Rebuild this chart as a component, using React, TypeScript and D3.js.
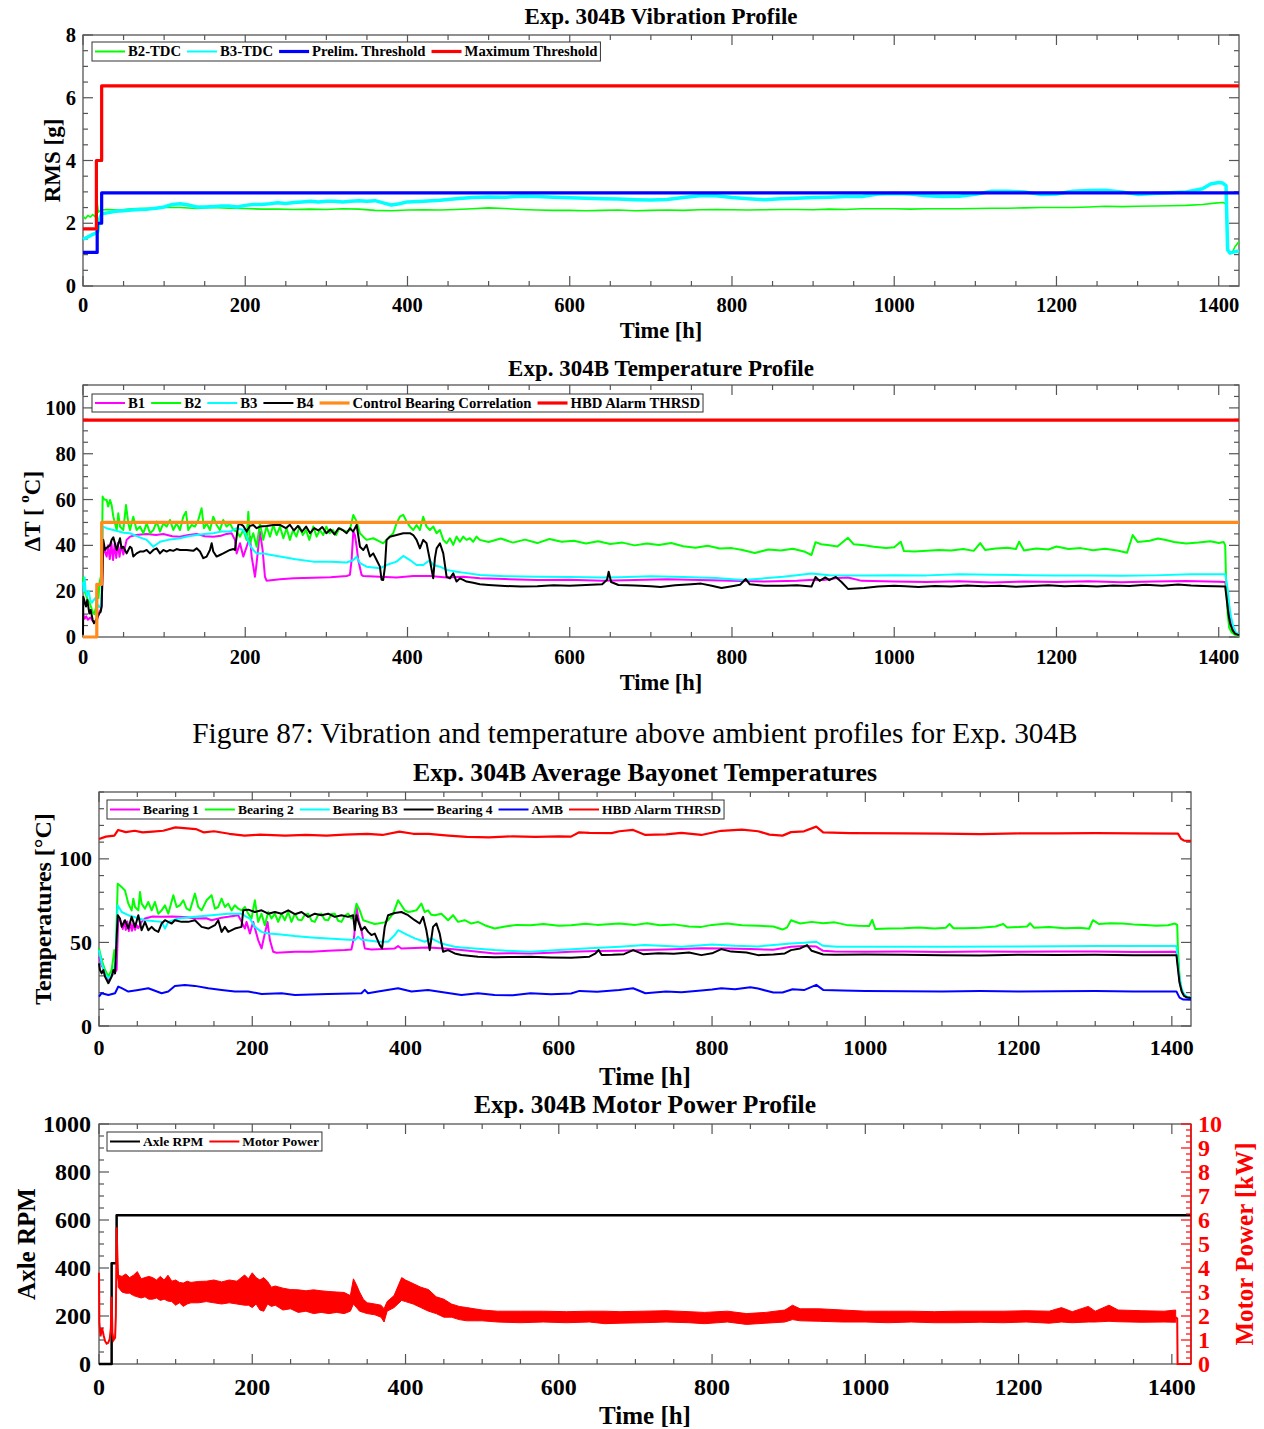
import React, { useEffect, useRef } from "react";
import * as d3 from "d3";

type P = [number, number];
type B = [number, number, number];

const W = 1264;
const H = 1429;
const FONT = "'Liberation Serif', 'Times New Roman', Times, serif";
const AX = "#555";
const X_MAX = 1425;
const xMajorTicks = [0, 200, 400, 600, 800, 1000, 1200, 1400];

// ---------------- Panel 1: Vibration ----------------
const vibTicks = [0, 2, 4, 6, 8];
const vibMax: P[] = [[0, 1.82], [16.5, 1.82], [16.5, 4.0], [23, 4.0], [23, 6.38], [1425, 6.38]];
const vibPrelim: P[] = [[0, 1.07], [17.5, 1.07], [17.5, 2.0], [23, 2.0], [23, 2.97], [1425, 2.97]];
const vibB2: P[] = [[0, 2.22], [3, 2.15], [6, 2.25], [9, 2.2], [12, 2.28], [15, 2.2], [17, 2.75], [19, 2.35], [22, 2.42], [30, 2.44], [45, 2.42], [60, 2.46], [80, 2.48], [100, 2.5], [120, 2.5], [140, 2.47], [160, 2.5], [180, 2.48], [200, 2.47], [220, 2.45], [240, 2.45], [260, 2.44], [280, 2.45], [300, 2.44], [320, 2.46], [340, 2.45], [360, 2.41], [380, 2.4], [400, 2.42], [420, 2.43], [440, 2.42], [460, 2.44], [480, 2.46], [500, 2.49], [520, 2.47], [540, 2.44], [560, 2.42], [580, 2.41], [600, 2.41], [620, 2.4], [640, 2.41], [660, 2.42], [680, 2.4], [700, 2.41], [720, 2.42], [740, 2.41], [760, 2.43], [780, 2.44], [800, 2.43], [820, 2.42], [840, 2.43], [860, 2.44], [880, 2.44], [900, 2.43], [920, 2.45], [940, 2.44], [960, 2.46], [980, 2.46], [1000, 2.46], [1020, 2.45], [1040, 2.46], [1060, 2.46], [1080, 2.46], [1100, 2.47], [1120, 2.48], [1140, 2.48], [1160, 2.49], [1180, 2.5], [1200, 2.5], [1220, 2.5], [1240, 2.52], [1260, 2.54], [1280, 2.53], [1300, 2.54], [1320, 2.55], [1340, 2.56], [1360, 2.57], [1380, 2.6], [1395, 2.64], [1405, 2.66], [1409, 2.62], [1411, 1.2], [1414, 1.05], [1417, 1.08], [1420, 1.25], [1425, 1.42]];
const vibB3: P[] = [[0, 1.49], [5, 1.55], [10, 1.62], [15, 1.68], [18, 1.72], [20, 2.1], [23, 2.3], [30, 2.33], [40, 2.38], [50, 2.4], [60, 2.42], [70, 2.44], [80, 2.45], [90, 2.48], [100, 2.52], [110, 2.6], [120, 2.62], [130, 2.58], [140, 2.52], [150, 2.52], [160, 2.53], [170, 2.55], [180, 2.55], [190, 2.52], [200, 2.57], [210, 2.6], [220, 2.6], [230, 2.62], [240, 2.65], [250, 2.63], [260, 2.66], [270, 2.68], [280, 2.7], [290, 2.68], [300, 2.7], [310, 2.7], [320, 2.68], [330, 2.7], [340, 2.72], [350, 2.7], [360, 2.72], [370, 2.65], [380, 2.58], [390, 2.62], [400, 2.68], [420, 2.7], [440, 2.73], [460, 2.78], [480, 2.82], [500, 2.84], [520, 2.83], [540, 2.86], [560, 2.85], [580, 2.83], [600, 2.81], [620, 2.8], [640, 2.78], [660, 2.77], [680, 2.75], [700, 2.74], [720, 2.76], [740, 2.82], [760, 2.88], [780, 2.88], [800, 2.82], [820, 2.78], [840, 2.75], [860, 2.78], [880, 2.8], [900, 2.82], [920, 2.83], [940, 2.85], [960, 2.85], [980, 2.93], [1000, 2.95], [1020, 2.93], [1040, 2.88], [1060, 2.85], [1080, 2.86], [1100, 2.92], [1120, 3.02], [1140, 3.02], [1160, 3.0], [1180, 2.92], [1200, 2.93], [1220, 3.02], [1240, 3.04], [1260, 3.05], [1280, 3.0], [1300, 2.92], [1320, 2.95], [1340, 2.97], [1360, 3.0], [1380, 3.1], [1390, 3.25], [1400, 3.3], [1405, 3.28], [1409, 3.2], [1411, 1.15], [1414, 1.05], [1418, 1.08], [1425, 1.12]];
const vibLabels = ["B2-TDC", "B3-TDC", "Prelim. Threshold", "Maximum Threshold"];

// ---------------- Panel 2: Temperature profile ----------------
const tempTicks = [0, 20, 40, 60, 80, 100];
const tempCtrl: P[] = [[0, 0], [17, 0], [17, 23], [23, 23], [23, 50], [1425, 50]];
const tempHbd: P[] = [[0, 94.7], [1425, 94.7]];
const tempB1: P[] = [[0, 10], [2, 8], [4, 9], [6, 7.5], [9, 8.5], [12, 7], [14, 6.5], [17, 7], [20.1, 11], [22, 12], [23, 14], [25, 39.4], [29.2, 35.1], [31, 40], [33, 34], [35, 41], [37, 33.6], [39, 40.5], [41, 34.5], [43, 41], [45, 35], [47, 40], [49.7, 36], [53.8, 42.4], [57.9, 43.8], [65, 44.5], [78.5, 45], [90, 44.5], [99, 45], [110, 44], [119.5, 43.8], [130, 44.5], [140.1, 45], [150, 44], [160.6, 43.8], [170, 44.2], [177, 45], [183.2, 45.3], [187.3, 42.4], [189.4, 36.5], [193.5, 40.9], [197.6, 35.1], [201.7, 39.4], [205.8, 43.8], [207.9, 35.1], [212, 26.3], [214, 32.2], [218.1, 46], [221.4, 38], [224.3, 26.3], [226.3, 24.6], [242.8, 25.2], [260, 25.6], [283.9, 25.9], [305, 26.1], [325, 26.6], [329, 27.1], [331.1, 33.6], [333.2, 46], [335.2, 44.5], [337.3, 39.4], [339.3, 33.6], [343.4, 27.1], [345.5, 26.6], [366, 26.3], [386.5, 26], [407.1, 26.6], [427.6, 26.6], [448.2, 26], [468.7, 26.3], [489.2, 25.6], [520, 25.3], [560, 24.9], [600, 25], [640, 24.6], [680, 24.9], [720, 25.2], [760, 24.9], [800, 24.5], [840, 24.2], [880, 24.6], [900, 25], [913, 24.9], [930, 25.8], [943, 26], [960, 24.5], [1000, 24.2], [1040, 24], [1080, 24.3], [1120, 23.8], [1160, 24.2], [1200, 24], [1240, 24.3], [1280, 23.9], [1320, 24.2], [1360, 24.4], [1400, 24.1], [1408, 24], [1411, 17], [1413, 11], [1415, 7], [1418, 3.5], [1421, 1.6], [1425, 0.9]];
const tempB2: P[] = [[0, 26.3], [1, 22], [2, 20], [4, 18], [6, 16], [8, 15], [10, 13], [12, 11], [14, 10], [16, 13], [17.5, 22], [19, 17], [20.5, 24], [22, 26.3], [23.5, 40], [24.2, 61.3], [26, 60], [29.2, 59.8], [31, 57], [33.3, 59.8], [35.3, 57.6], [37.4, 52.5], [41.5, 46.7], [43.5, 54], [45.6, 48.2], [49.7, 46.7], [53, 57.6], [55.9, 49.6], [57.9, 46.7], [62, 52.5], [66.1, 46.7], [70.2, 48.2], [74.4, 45.3], [78.5, 49.6], [82.6, 45.3], [86.7, 46.7], [90.8, 50.4], [94.9, 46], [99, 49.6], [103.1, 48.2], [107.2, 51.1], [111.3, 46.7], [115.4, 49.6], [119.5, 46.7], [123.6, 52.5], [126.9, 54.7], [129.8, 46.7], [133.9, 48.9], [138, 48.2], [142.1, 51.1], [146.2, 56.2], [149.1, 47.5], [152.4, 49.6], [156.5, 46.7], [160.6, 52.5], [164.7, 48.9], [168.8, 46.7], [172.9, 51.1], [177, 48.2], [181.2, 49.6], [185.3, 46.7], [189.4, 46], [193.5, 43.8], [197.6, 46.7], [201.7, 42.4], [203.8, 54.7], [205.8, 40.9], [209.9, 45.3], [214, 39.4], [218.1, 49.6], [222.2, 42.4], [226.3, 48.2], [230.5, 43.8], [234.6, 48.9], [238.7, 44.5], [242.8, 48.2], [247, 43.1], [251, 47.5], [255, 42.4], [259, 46.7], [263, 43.8], [267, 48.2], [271, 44.5], [275, 46.7], [279, 42.4], [283.9, 48.2], [288, 43.8], [292, 46.7], [296, 44.5], [300, 48.2], [304, 45.3], [308, 46.7], [312, 44.5], [316, 47.5], [320, 46.7], [325, 46], [329, 46.7], [333.2, 53.3], [337.3, 50.4], [341.4, 45.3], [345.5, 43.8], [349.6, 42.4], [357.8, 43.1], [366, 41.6], [370.1, 40.9], [374.2, 42.4], [382.4, 45.3], [386.5, 49.6], [390.6, 52.5], [394.8, 53.3], [398.9, 50.4], [403, 48.2], [407.1, 46.7], [411.2, 48.9], [415.3, 46.7], [419.4, 52.5], [423.5, 48.2], [427.6, 46.7], [431.7, 48.2], [435.9, 45.3], [440, 46.7], [444.1, 42.4], [448.2, 40.9], [452.3, 43.1], [456.4, 40.2], [460.5, 43.8], [464.6, 41.6], [468.7, 43.8], [472.8, 42.4], [476.9, 43.1], [481, 41.6], [485.1, 43.8], [489.2, 42.4], [500, 41.5], [515, 43], [530, 41.2], [545, 42.5], [560, 41], [575, 42.8], [590, 41.6], [605, 42], [620, 40.8], [635, 41.8], [650, 40.6], [665, 41.2], [680, 40], [695, 40.8], [710, 40.2], [725, 41], [740, 39.6], [755, 39], [770, 39.8], [785, 38.6], [800, 38.8], [813, 38], [828, 36.7], [845, 38.2], [860, 37.8], [875, 38.5], [890, 37.2], [898, 35.8], [903, 41.4], [910, 40.5], [920, 40], [930, 39.5], [943, 43.3], [950, 40.5], [963, 40], [975, 39.4], [990, 38.8], [1000, 39.2], [1008, 41.6], [1012, 37.5], [1025, 37.3], [1040, 37.6], [1055, 38], [1070, 37.8], [1085, 38.4], [1098, 37.6], [1106, 41], [1112, 38], [1125, 38.6], [1140, 39], [1150, 38.4], [1154, 41.6], [1160, 37.8], [1175, 38.6], [1190, 38.2], [1200, 39.5], [1215, 38.4], [1230, 38.8], [1245, 37.9], [1260, 38.5], [1275, 37.8], [1287, 36.8], [1294, 44.5], [1300, 41.5], [1315, 42], [1325, 43], [1335, 42.3], [1345, 41.5], [1360, 40.8], [1375, 41.2], [1390, 41.8], [1400, 41], [1406, 41.5], [1408, 40], [1409, 25], [1411, 10], [1413, 4], [1416, 2], [1420, 1], [1425, 0.5]];
const tempB3: P[] = [[0, 24], [1, 20], [2, 26], [3, 21], [5, 18], [7, 20], [9, 16], [11, 15], [13, 16], [15, 17], [18, 14], [20, 13], [22, 14], [23, 20], [24.5, 48.2], [29, 47.5], [37.4, 46.7], [50, 45.5], [57.9, 45.3], [70, 43.5], [78.5, 42.4], [86.7, 39.4], [95, 41.6], [105, 42.4], [119.5, 43.1], [130, 44], [140.1, 44.5], [150, 45], [160.6, 45.3], [170, 46], [181.2, 46], [189.4, 47.5], [197.6, 46.7], [201.7, 43.8], [205.8, 40], [209.9, 38], [214, 36.5], [222.2, 36.5], [232, 35.8], [242.8, 35.1], [262, 33.9], [283.9, 32.9], [305, 32.9], [325, 32.5], [333.2, 33.6], [337.3, 35.1], [341.4, 32.2], [349.6, 30.7], [366, 30], [374.2, 31.4], [386.5, 32.9], [394.8, 35.4], [403, 33.6], [411.2, 31.4], [419.4, 31.4], [427.6, 33.6], [431.7, 31.4], [440, 30.7], [448.2, 29.3], [460.5, 28.5], [468.7, 28.1], [489.2, 27.1], [520, 26.5], [560, 26.3], [600, 26.2], [640, 26], [662, 26.1], [700, 26.5], [740, 26.2], [780, 25.8], [813, 24.9], [840, 25.6], [863, 26.3], [880, 27], [898, 27.7], [920, 27], [963, 26.8], [1000, 27], [1040, 26.9], [1080, 27.4], [1120, 27.2], [1160, 27], [1200, 26.8], [1240, 26.9], [1280, 26.7], [1320, 26.9], [1366, 27.4], [1408, 27.4], [1411, 21], [1413, 14], [1415, 9], [1418, 4.5], [1421, 2], [1425, 1]];
const tempB4: P[] = [[0, 1], [0.4, 17.6], [3.7, 13.3], [5.3, 16.2], [7.8, 10.3], [9.4, 11.8], [12, 7.4], [13.6, 6], [16.8, 8], [20.1, 10.3], [21.8, 11], [23, 13.3], [24.2, 30], [25, 42.4], [27.1, 38], [29.2, 39], [31.2, 39.4], [33.3, 40], [35.3, 42.4], [37.4, 43.5], [41.5, 38], [45.6, 43.1], [47.6, 38.7], [49.7, 39.4], [53.8, 36.5], [57.9, 39.4], [60, 38.7], [62, 35.1], [66.1, 36.5], [70.2, 37.3], [74.4, 37.3], [78.5, 38], [82.6, 36.5], [86.7, 38], [90.8, 38.7], [94.9, 36.5], [99, 38], [103.1, 37.3], [107.2, 38], [111.3, 37.6], [115.4, 38.4], [119.5, 38], [127.8, 38], [136, 37.6], [140.1, 38.7], [144.2, 37.3], [148.3, 34.4], [152.4, 35.1], [156.5, 38], [158.6, 40.9], [160.6, 37.3], [164.7, 35.1], [168.8, 35.8], [172.9, 36.5], [177, 37.3], [181.2, 38], [185.3, 38.4], [187.3, 38], [189.4, 43.8], [191.4, 48.9], [193.5, 49.4], [197.6, 48.5], [201.7, 46], [205.8, 48.5], [209.9, 48.9], [214, 47.5], [218.1, 48.2], [226.3, 48.5], [234.6, 48.9], [242.8, 48.9], [250, 47.5], [255, 49], [260, 46.5], [265, 48.5], [270, 46], [275, 48.2], [280, 45.3], [285, 47.5], [290, 46.5], [295, 48], [300, 45.3], [305, 47], [310, 44.8], [315, 47.5], [320, 46.7], [325, 45.3], [329, 47.5], [333, 46], [337.3, 48.9], [339, 45], [341.4, 39.4], [345.5, 38], [349.6, 40.2], [353.7, 35.1], [357.8, 36.5], [361.9, 33.6], [366, 30.7], [368, 25], [370.1, 24.9], [372.2, 30.7], [374.2, 42.4], [378.3, 43.8], [386.5, 44.5], [394.8, 45.3], [403, 45.3], [407.1, 44.5], [411.2, 42.4], [415.3, 38.7], [419.4, 42.4], [423.5, 40.9], [427.6, 33.6], [431.7, 25.6], [433.8, 34.4], [435.9, 38.7], [440, 40.9], [444.1, 36.5], [448.2, 26.3], [452.3, 25.6], [456.4, 27.8], [460.5, 24.2], [464.6, 25.6], [468.7, 24.9], [472.8, 24.2], [481, 23.7], [489.2, 23], [500, 22.7], [520, 22.3], [540, 22], [560, 22.2], [580, 22.6], [600, 22.4], [620, 22.7], [640, 23], [646, 25], [648, 28.5], [651, 24], [660, 22.7], [680, 22.5], [700, 22.2], [712, 21.8], [730, 22.6], [750, 23], [762, 23.3], [775, 22.4], [787, 21.4], [800, 22.2], [810, 22.8], [817, 25.3], [822, 23], [840, 22.4], [863, 22.4], [880, 22.6], [898, 22], [903, 26.2], [908, 24.5], [915, 26], [920, 24.8], [928, 26.2], [935, 24], [943, 21], [963, 21.4], [980, 22], [1000, 22.4], [1014, 22.2], [1030, 21.8], [1050, 22.3], [1070, 22], [1090, 22.5], [1110, 22.1], [1130, 22.4], [1150, 21.9], [1170, 22.3], [1190, 22.6], [1210, 22.1], [1230, 22.4], [1250, 22], [1270, 22.5], [1290, 22.3], [1310, 22.8], [1330, 22.4], [1350, 22.9], [1366, 22.5], [1380, 22.3], [1395, 22.1], [1408, 22], [1410, 16], [1412, 10], [1414, 6], [1417, 3], [1420, 1.5], [1425, 0.8]];
const tempLabels = ["B1", "B2", "B3", "B4", "Control Bearing Correlation", "HBD Alarm THRSD"];

// ---------------- Panel 3: Average bayonet temperatures ----------------
const bayTicks = [0, 50, 100];
const bayB1: P[] = [[0, 41.5], [3.5, 36], [7.8, 33.5], [12.2, 27.5], [16.5, 30], [20, 31.5], [23, 33.5], [25.2, 65.3], [29.6, 61.3], [31, 58], [33, 63], [35, 57.5], [37, 62.5], [39, 56.8], [41, 62], [43, 57], [45, 61.5], [47, 57.5], [49, 60.5], [51.3, 58.5], [55.6, 62.3], [60, 64.3], [70, 65.5], [81.7, 65.3], [95, 65.5], [103.5, 65.3], [115, 65], [125.2, 64.3], [140, 64.5], [146.9, 63.3], [160, 64.8], [168.6, 65.3], [181.7, 66.3], [186, 62.3], [190.4, 58.3], [192.5, 62.3], [196.9, 55.3], [201.2, 62.3], [207.7, 51.4], [212.1, 46.4], [216.4, 55.3], [219.9, 62.3], [223, 51.4], [227.3, 44.4], [231.7, 43.8], [255.6, 44.4], [277.3, 44.4], [299, 45], [320.8, 45.4], [329.4, 45.8], [332.9, 53.4], [336, 71.2], [339, 63.3], [342.5, 57.3], [346.8, 46.4], [355.5, 45.8], [385.9, 46.4], [390.3, 47.8], [394.6, 46.4], [429.4, 47], [451.1, 46.4], [472.9, 45.4], [516.3, 43.4], [540, 43.6], [563, 43.4], [590, 43.8], [616, 44.4], [650, 44.8], [680, 45], [712, 45.4], [740, 45.8], [786, 46.5], [820, 46.4], [850, 46], [880, 45.6], [903, 47.4], [920, 47.8], [936, 47.5], [945, 45], [960, 44.6], [1000, 44.4], [1050, 44.5], [1100, 44.3], [1150, 44.6], [1200, 44.4], [1250, 44.5], [1300, 44.6], [1350, 44.3], [1406, 44.4], [1408, 36], [1410, 27], [1413, 21], [1416, 18.5], [1420, 17.2], [1425, 17]];
const bayB2: P[] = [[0, 46.4], [3.5, 39.5], [7.8, 33.5], [12.2, 29.6], [16.5, 33.5], [20, 45.4], [21.7, 39.5], [24.4, 85.1], [29.6, 83.1], [33.9, 81.1], [36.1, 77.2], [38.3, 73.2], [42.6, 69.2], [44.8, 76.2], [47, 71.2], [51.3, 69.2], [53.5, 80.1], [55.6, 73.2], [60, 70.2], [64.3, 74.2], [68.7, 69.2], [73, 74.2], [77.4, 67.2], [81.7, 69.2], [86.1, 72.2], [90.4, 67.2], [97, 78.2], [101.3, 71.2], [105.6, 72.2], [110, 75.2], [114.3, 70.2], [118.7, 69.2], [125.2, 79.2], [129.5, 71.2], [133.9, 69.2], [140.4, 75.2], [146.9, 78.2], [151.3, 70.2], [155.6, 71.2], [160, 76.2], [164.3, 71.2], [168.6, 73.2], [173, 69.2], [177.3, 72.2], [181.7, 70.2], [186, 69.2], [190.4, 71.2], [194.7, 67.2], [199, 64.3], [203.4, 75.2], [207.7, 62.3], [212.1, 67.2], [216.4, 60.3], [220.8, 68.2], [225.1, 64.3], [229.5, 67.2], [233.8, 62.3], [238.2, 67.2], [242.5, 63.3], [246.9, 68.2], [251.2, 62.3], [255.6, 67.2], [260, 63.5], [264.3, 63.3], [268.6, 66.5], [273, 67.2], [277.3, 63], [281.6, 62.3], [286, 66.5], [290.3, 67.2], [294.6, 63.5], [299, 63.3], [303.3, 67], [307.7, 67.2], [312, 63], [316.4, 62.3], [320.8, 66], [325.1, 67.2], [329.4, 64.3], [333, 66], [336, 73.2], [340.3, 69.2], [344.7, 63.3], [351.2, 62.3], [359.9, 61], [364.2, 61.3], [372.9, 62], [377.2, 63.3], [383.8, 67.2], [390.3, 75.2], [394.6, 72.2], [399, 69.2], [403.3, 68.2], [407.7, 68.5], [414.2, 69.2], [420.7, 73.2], [425, 68.2], [429.4, 69.2], [433.7, 66.5], [438.1, 66.3], [446.8, 67.2], [455.5, 63.3], [462, 66.3], [468.5, 62.3], [477.2, 63.3], [485.9, 61.3], [494.6, 62.3], [503.3, 60.3], [516.3, 58.3], [530, 59.5], [545, 60.5], [563, 60.3], [580, 61], [600, 60], [616, 60.3], [635, 61.2], [650, 60.5], [669, 61], [679, 61.3], [700, 60.5], [715, 61.5], [732, 60.3], [750, 60.8], [770, 59.5], [786, 59.3], [800, 60.5], [820, 61.3], [839, 60.3], [860, 60], [880, 59.5], [892, 57.7], [898, 59], [903, 63.3], [915, 61.3], [930, 62.3], [945, 61.5], [960, 62], [975, 60.5], [990, 60], [1005, 59.8], [1009, 63.5], [1013, 58], [1030, 58.3], [1050, 58.5], [1070, 59], [1090, 58.3], [1105, 58.8], [1110, 61], [1115, 58.5], [1130, 58.5], [1150, 58.8], [1170, 59.5], [1180, 61], [1185, 59], [1200, 59.2], [1211, 59.5], [1215, 61.5], [1220, 58.8], [1240, 59.3], [1260, 58.5], [1280, 58.8], [1292, 58.2], [1297, 63.3], [1305, 61], [1320, 61.5], [1335, 61.3], [1350, 60.8], [1365, 60.5], [1380, 60], [1395, 60.3], [1404, 61.3], [1407, 60.5], [1408, 45], [1410, 30], [1412, 22], [1415, 19], [1418, 17.5], [1422, 17], [1425, 17]];
const bayB3: P[] = [[0, 45.4], [3.5, 37.5], [7.8, 31.5], [12.2, 28.6], [18.7, 31.5], [21.7, 39.5], [24.4, 72.2], [29.6, 68.2], [38.3, 66.3], [60, 63.3], [81.7, 62.3], [86.1, 58.3], [90.4, 62.3], [103.5, 64.3], [125.2, 65.3], [146.9, 66.3], [168.6, 67.2], [186, 67.2], [192.5, 65.3], [196.9, 64.3], [203.4, 59.3], [212.1, 56.3], [220.8, 55.3], [233.8, 54.9], [255.6, 53.8], [277.3, 53], [299, 52.4], [320.8, 51.8], [333.8, 51.4], [338.1, 53.4], [342.5, 51.8], [364.2, 50.4], [377.2, 50.4], [385.9, 54.4], [390.3, 57.3], [399, 55.3], [412, 52.4], [425, 50.4], [433.7, 52.4], [446.8, 49.4], [464.2, 47.4], [472.9, 47], [516.3, 45.4], [540, 44.8], [563, 44.4], [600, 45.5], [640, 46.5], [680, 47.4], [712, 48.4], [740, 47.8], [760, 47.4], [800, 48.8], [830, 48], [860, 47.6], [903, 49.4], [920, 49.8], [936, 50.4], [945, 48], [963, 47.4], [1000, 47.4], [1100, 47.4], [1200, 47.6], [1300, 47.8], [1406, 47.8], [1408, 38], [1410, 29], [1413, 22], [1416, 19], [1420, 17.5], [1425, 17]];
const bayB4: P[] = [[0, 37.5], [1.3, 33.5], [3.5, 31.5], [5.7, 33.5], [7.8, 29.6], [12.2, 25.6], [16.5, 29.6], [18.7, 33.5], [20.9, 31.5], [24.4, 66.3], [27.4, 64.3], [29.6, 59.3], [33.9, 63.3], [38.3, 58.3], [42.6, 65.3], [47, 59.3], [51.3, 66.3], [55.6, 57.3], [60, 62.3], [64.3, 57.3], [68.7, 59.3], [73, 57.3], [77.4, 56.3], [81.7, 61.3], [86.1, 63.3], [90.4, 62.3], [94.8, 61.3], [99, 63.3], [107.8, 62.3], [116.5, 62.3], [125.2, 63.3], [133.9, 59.3], [142.6, 58.3], [151.3, 60.3], [155.6, 63.3], [160, 56.3], [164.3, 59.3], [168.6, 56.3], [177.3, 58.3], [186, 59.3], [188.2, 69.2], [194.7, 69.6], [203.4, 68.2], [212.1, 69.2], [220.8, 67.2], [229.5, 68.2], [238.2, 67.2], [246.9, 69.2], [255.6, 66.9], [264.3, 68.2], [273, 65.3], [281.6, 67.2], [290.3, 66.3], [299, 67.2], [307.7, 65.3], [316.4, 66.3], [325.1, 65.3], [331.6, 66.3], [333.8, 57.3], [336, 66.3], [338, 63], [342.5, 57.3], [346.8, 59.3], [351.2, 56.3], [355.5, 54.4], [359.9, 55.3], [366.4, 48.4], [369.4, 46.4], [372.9, 59.3], [377.2, 66.3], [385.9, 67.6], [394.6, 68.2], [403.3, 66.3], [412, 63.3], [418.5, 61.3], [422.9, 65.3], [427.2, 57.3], [431.6, 45.4], [435.9, 59.3], [440.3, 61.3], [444.6, 55.3], [449, 44.4], [455.5, 45.4], [464.2, 43.4], [472.9, 42.5], [494.6, 41.5], [516.3, 41.1], [540, 41.3], [563, 41.4], [590, 41], [616, 40.8], [640, 41.5], [648, 43.5], [652, 45.5], [656, 42.5], [670, 42.6], [685, 43], [697, 45.4], [710, 43], [730, 43.5], [750, 43.2], [770, 44], [786, 42.4], [800, 43.5], [812, 46], [825, 44.5], [845, 44], [860, 42.4], [880, 42.8], [895, 43.4], [903, 45.4], [915, 46.4], [924, 48.4], [930, 45], [945, 42.8], [960, 42.6], [1000, 42.8], [1050, 42.6], [1100, 42.4], [1150, 42.2], [1200, 42.6], [1250, 42.5], [1300, 42.6], [1350, 42.4], [1406, 42.4], [1408, 34], [1410, 26], [1413, 20.5], [1416, 18], [1420, 17], [1425, 16.8]];
const bayAmb: P[] = [[0, 17.6], [3.5, 19.6], [12.2, 18.6], [20.9, 19.6], [25.2, 23.6], [29.6, 22.6], [38.3, 20.6], [51.3, 21.6], [64.3, 22.6], [81.7, 19.6], [90.4, 20.6], [99, 24], [112.1, 24.6], [125.2, 24], [142.6, 22.6], [160, 21.6], [177.3, 20.6], [194.7, 20.6], [212.1, 19.2], [238.2, 19.6], [255.6, 18.6], [299, 19.2], [342.5, 19.6], [346.8, 21.6], [351, 19.6], [364.2, 20.6], [390.3, 22.6], [407.7, 20.6], [429.4, 21.6], [451.1, 20], [472.9, 18.6], [494.6, 19.6], [516.3, 18.6], [540, 18.4], [563, 19.6], [590, 19], [616, 19.4], [627, 21], [650, 20.5], [679, 21.6], [697, 22.6], [713, 19.6], [740, 20.6], [760, 20.2], [786, 21.2], [800, 21.8], [812, 22.6], [830, 22], [850, 23.2], [860, 22.4], [880, 20], [892, 20], [905, 22], [920, 21.5], [936, 24.6], [945, 21.6], [970, 21.2], [1000, 21], [1050, 20.8], [1100, 20.6], [1150, 20.9], [1200, 20.7], [1250, 20.8], [1300, 20.9], [1350, 20.7], [1406, 20.6], [1410, 17], [1415, 15.8], [1425, 15.7]];
const bayHbd: P[] = [[0, 111.9], [9, 113.3], [20, 113.9], [25, 117.3], [35, 116], [46.5, 116.8], [57, 115.8], [70, 116.3], [83.8, 116.8], [99.7, 118.8], [115, 118.2], [126.3, 117.8], [137, 115.8], [150, 116.5], [170, 115], [190, 113.9], [210, 114.5], [243, 113.9], [270, 114.3], [297, 113.9], [320, 114.5], [350, 114.9], [370, 114.3], [392, 116.3], [410, 115], [430, 114.9], [456, 113.9], [480, 113.2], [509, 112.9], [540, 113.5], [570, 113.2], [600, 113.5], [616, 113.3], [626, 115.8], [640, 115.5], [669, 115.4], [679, 116.5], [697, 117.3], [713, 114.3], [740, 114.7], [760, 115.5], [786, 114.3], [812, 116.8], [839, 117.5], [860, 116.5], [875, 114.5], [892, 113.9], [903, 116], [920, 116.5], [936, 119.3], [945, 115.8], [980, 115.4], [1050, 115.3], [1100, 115.1], [1150, 114.8], [1200, 115.2], [1250, 115.3], [1300, 115.4], [1350, 115.2], [1408, 115.1], [1412, 112], [1416, 110.9], [1425, 110.8]];
const bayLabels = ["Bearing 1", "Bearing 2", "Bearing B3", "Bearing 4", "AMB", "HBD Alarm THRSD"];

// ---------------- Panel 4: Motor power ----------------
const rpmTicks = [0, 200, 400, 600, 800, 1000];
const kwTicks = [0, 1, 2, 3, 4, 5, 6, 7, 8, 9, 10];
const axleRpm: P[] = [[0, 0], [16.5, 0], [16.5, 420], [23, 420], [23, 620], [1425, 620]];
const powerStart: P[] = [[0, 3.8], [0.5, 1.7], [2, 1.15], [4, 1.5], [6, 1.2], [8, 0.95], [10, 0.85], [12, 0.88], [14, 1.05], [15.5, 1.5], [16.5, 2.8], [17.5, 1.3], [19, 1.0], [21, 1.1], [22, 2.0], [23, 5.7], [24, 4.5], [25, 3.6], [27, 3.3]];
const powerBand: B[] = [[25, 3.2, 3.7], [30, 3.0, 3.65], [35, 2.95, 3.75], [40, 2.95, 3.6], [45, 2.85, 3.7], [50, 2.8, 3.85], [55, 2.75, 3.55], [60, 2.8, 3.6], [65, 2.7, 3.65], [70, 2.7, 3.6], [75, 2.75, 3.5], [80, 2.65, 3.65], [85, 2.7, 3.5], [90, 2.62, 3.7], [95, 2.6, 3.45], [100, 2.45, 3.5], [105, 2.55, 3.4], [110, 2.4, 3.37], [115, 2.5, 3.45], [120, 2.55, 3.4], [130, 2.55, 3.44], [140, 2.6, 3.45], [150, 2.55, 3.5], [160, 2.5, 3.42], [170, 2.55, 3.5], [180, 2.5, 3.45], [190, 2.45, 3.71], [195, 2.45, 3.55], [200, 2.35, 3.8], [205, 2.5, 3.6], [210, 2.25, 3.5], [215, 2.2, 3.6], [220, 2.5, 3.44], [225, 2.4, 3.2], [230, 2.45, 3.25], [240, 2.25, 3.16], [250, 2.3, 3.1], [260, 2.15, 3.09], [270, 2.2, 3.05], [280, 2.1, 3.09], [290, 2.15, 3.05], [300, 2.1, 3.02], [310, 2.15, 3.0], [320, 2.1, 2.98], [328, 2.2, 2.85], [332, 2.5, 3.55], [336, 2.35, 3.3], [340, 2.2, 3.0], [345, 2.15, 2.7], [350, 2.1, 2.55], [360, 2.05, 2.5], [368, 1.95, 2.45], [372, 1.75, 2.3], [376, 2.2, 2.6], [385, 2.35, 2.85], [395, 2.65, 3.6], [400, 2.6, 3.5], [410, 2.5, 3.35], [420, 2.35, 3.2], [430, 2.2, 3.1], [440, 2.1, 2.8], [450, 1.95, 2.7], [460, 1.95, 2.5], [470, 1.85, 2.4], [480, 1.8, 2.35], [490, 1.8, 2.3], [500, 1.8, 2.25], [520, 1.75, 2.2], [550, 1.72, 2.2], [580, 1.75, 2.2], [610, 1.72, 2.18], [640, 1.75, 2.2], [660, 1.68, 2.2], [680, 1.7, 2.18], [710, 1.72, 2.2], [740, 1.75, 2.22], [770, 1.72, 2.18], [790, 1.68, 2.15], [820, 1.75, 2.2], [845, 1.65, 2.1], [870, 1.7, 2.15], [895, 1.75, 2.25], [905, 1.85, 2.45], [915, 1.8, 2.3], [940, 1.78, 2.3], [970, 1.75, 2.25], [1000, 1.75, 2.2], [1030, 1.72, 2.2], [1060, 1.75, 2.2], [1090, 1.72, 2.18], [1120, 1.72, 2.2], [1150, 1.74, 2.2], [1180, 1.72, 2.2], [1210, 1.75, 2.22], [1240, 1.7, 2.2], [1256, 1.75, 2.35], [1270, 1.72, 2.18], [1291, 1.75, 2.4], [1300, 1.75, 2.2], [1318, 1.78, 2.45], [1330, 1.76, 2.25], [1360, 1.74, 2.22], [1390, 1.75, 2.2], [1405, 1.74, 2.25]];
const powerEnd: P[] = [[1405, 1.95], [1407, 1.9], [1407.5, 0], [1425, 0]];
const powerLabels = ["Axle RPM", "Motor Power"];

const CAPTION = "Figure 87: Vibration and temperature above ambient profiles for Exp. 304B";

type Sel = d3.Selection<any, any, any, any>;

interface Series { data: P[]; color: string; width: number; }
interface LegendItem { label: string; color: string; width: number; }
interface PanelCfg {
  id: string;
  left: number; right: number; top: number; bottom: number;
  yMax: number; yTicks: number[]; yMinorStep: number;
  tickFs: number; xTickBase: number; yTickGap: number;
  title: string; titleFs: number; titleBase: number;
  xLabelFs: number; xLabelBase: number;
  yLabel: string | null; yLabelX: number; yLabelFs: number;
  mirrorRight: boolean;
  series: Series[];
  legend: { left: number; top: number; h: number; fs: number; items: LegendItem[] };
}

function txt(g: Sel, x: number, y: number, s: string, fs: number, anchor = "middle", weight = "bold", color = "#000") {
  return g.append("text").attr("x", x).attr("y", y).attr("font-family", FONT).attr("font-size", fs)
    .attr("font-weight", weight).attr("text-anchor", anchor).attr("fill", color).text(s);
}

function drawPanel(root: Sel, c: PanelCfg, extra?: (g: Sel, x: d3.ScaleLinear<number, number>, clip: Sel) => void) {
  const g = root.append("g");
  const x = d3.scaleLinear().domain([0, X_MAX]).range([c.left, c.right]);
  const y = d3.scaleLinear().domain([0, c.yMax]).range([c.bottom, c.top]);

  root.append("defs").append("clipPath").attr("id", c.id).append("rect")
    .attr("x", c.left - 1).attr("y", c.top - 2).attr("width", c.right - c.left + 3).attr("height", c.bottom - c.top + 4);

  g.append("rect").attr("x", c.left).attr("y", c.top).attr("width", c.right - c.left).attr("height", c.bottom - c.top)
    .attr("fill", "#fff").attr("stroke", AX).attr("stroke-width", 1.3);

  const tk = g.append("g").attr("stroke", AX).attr("stroke-width", 1.2);
  d3.range(0, X_MAX + 0.01, 50).forEach((v) => {
    const L = v % 200 === 0 ? 10 : 5;
    tk.append("line").attr("x1", x(v)).attr("x2", x(v)).attr("y1", c.bottom).attr("y2", c.bottom - L);
    tk.append("line").attr("x1", x(v)).attr("x2", x(v)).attr("y1", c.top).attr("y2", c.top + L);
  });
  d3.range(0, c.yMax + 0.001, c.yMinorStep).forEach((v) => {
    const major = c.yTicks.some((t) => Math.abs(t - v) < 1e-6);
    const L = major ? 10 : 5;
    tk.append("line").attr("x1", c.left).attr("x2", c.left + L).attr("y1", y(v)).attr("y2", y(v));
    if (c.mirrorRight) tk.append("line").attr("x1", c.right).attr("x2", c.right - L).attr("y1", y(v)).attr("y2", y(v));
  });

  xMajorTicks.forEach((v) => txt(g, x(v), c.xTickBase, String(v), c.tickFs));
  c.yTicks.forEach((v) => txt(g, c.left - c.yTickGap, y(v), String(v), c.tickFs, "end").attr("dominant-baseline", "central"));

  txt(g, (c.left + c.right) / 2, c.titleBase, c.title, c.titleFs);
  txt(g, (c.left + c.right) / 2, c.xLabelBase, "Time [h]", c.xLabelFs);
  if (c.yLabel) {
    txt(g, 0, 0, c.yLabel, c.yLabelFs).attr("x", null).attr("y", null)
      .attr("dominant-baseline", "central")
      .attr("transform", `translate(${c.yLabelX},${(c.top + c.bottom) / 2}) rotate(-90)`);
  }

  const clip = g.append("g").attr("clip-path", `url(#${c.id})`);
  const line = d3.line<P>().x((d) => x(d[0])).y((d) => y(d[1]));
  c.series.forEach((s) => {
    clip.append("path").attr("d", line(s.data) as string).attr("fill", "none")
      .attr("stroke", s.color).attr("stroke-width", s.width).attr("stroke-linejoin", "round");
  });
  if (extra) extra(g, x, clip);

  // legend
  const L = c.legend;
  const lg = g.append("g");
  const box = lg.append("rect").attr("x", L.left).attr("y", L.top).attr("height", L.h)
    .attr("fill", "#fff").attr("stroke", "#333").attr("stroke-width", 1);
  const mid = L.top + L.h / 2;
  let cx = L.left + 3;
  L.items.forEach((it) => {
    lg.append("line").attr("x1", cx).attr("x2", cx + 30).attr("y1", mid).attr("y2", mid)
      .attr("stroke", it.color).attr("stroke-width", it.width);
    const t = txt(lg, cx + 33, mid + L.fs * 0.34, it.label, L.fs, "start");
    const w = (t.node() as SVGTextElement).getComputedTextLength();
    cx = cx + 33 + w + 6;
  });
  box.attr("width", cx - 6 + 3 - L.left);
  return { x, y, g };
}

function draw(svg: Sel) {
  svg.append("rect").attr("width", W).attr("height", H).attr("fill", "#fff");

  // Panel 1
  const p1Series: Series[] = [
    { data: vibB2, color: "#00ff00", width: 1.6 },
    { data: vibB3, color: "#00ffff", width: 3.5 },
    { data: vibPrelim, color: "#0000ff", width: 3.2 },
    { data: vibMax, color: "#ff0000", width: 3.2 },
  ];
  drawPanel(svg, {
    id: "c1", left: 83, right: 1239, top: 35, bottom: 286, yMax: 8, yTicks: vibTicks, yMinorStep: 0.5,
    tickFs: 20.5, xTickBase: 312, yTickGap: 7,
    title: "Exp. 304B Vibration Profile", titleFs: 23, titleBase: 24,
    xLabelFs: 22.5, xLabelBase: 338, yLabel: "RMS [g]", yLabelX: 52, yLabelFs: 23, mirrorRight: true,
    series: p1Series,
    legend: { left: 92, top: 42, h: 19, fs: 14.7, items: vibLabels.map((l, i) => ({ label: l, color: p1Series[i].color, width: i < 2 ? 2 : 3.2 })) },
  });

  // Panel 2
  const p2Series: Series[] = [
    { data: tempB1, color: "#ff00ff", width: 2 },
    { data: tempB2, color: "#00ff00", width: 2 },
    { data: tempB3, color: "#00ffff", width: 2 },
    { data: tempB4, color: "#000000", width: 2 },
    { data: tempCtrl, color: "#ff8c1a", width: 3.2 },
    { data: tempHbd, color: "#ff0000", width: 3.2 },
  ];
  const p2 = drawPanel(svg, {
    id: "c2", left: 83, right: 1239, top: 385, bottom: 637, yMax: 110, yTicks: tempTicks, yMinorStep: 5,
    tickFs: 20.5, xTickBase: 664, yTickGap: 7,
    title: "Exp. 304B Temperature Profile", titleFs: 23, titleBase: 376,
    xLabelFs: 22.5, xLabelBase: 690, yLabel: null, yLabelX: 32, yLabelFs: 22, mirrorRight: true,
    series: p2Series,
    legend: { left: 92, top: 394, h: 18, fs: 14.7, items: tempLabels.map((l, i) => ({ label: l, color: p2Series[i].color, width: i < 4 ? 2 : 3.2 })) },
  });
  const yl = p2.g.append("text").attr("font-family", FONT).attr("font-size", 23).attr("font-weight", "bold")
    .attr("text-anchor", "middle").attr("dominant-baseline", "central")
    .attr("transform", `translate(32,${(385 + 637) / 2}) rotate(-90)`);
  yl.append("tspan").text("ΔT [ ");
  yl.append("tspan").attr("dy", -8).attr("font-size", 15).text("o");
  yl.append("tspan").attr("dy", 8).text("C]");

  // Caption
  txt(svg, 635, 743, CAPTION, 29.3, "middle", "normal");

  // Panel 3
  const p3Series: Series[] = [
    { data: bayB1, color: "#ff00ff", width: 2 },
    { data: bayB2, color: "#00ff00", width: 2 },
    { data: bayB3, color: "#00ffff", width: 2 },
    { data: bayB4, color: "#000000", width: 2 },
    { data: bayAmb, color: "#0000ff", width: 2 },
    { data: bayHbd, color: "#ff0000", width: 2.2 },
  ];
  drawPanel(svg, {
    id: "c3", left: 99, right: 1191, top: 792, bottom: 1026, yMax: 140, yTicks: bayTicks, yMinorStep: 10,
    tickFs: 22, xTickBase: 1055, yTickGap: 7,
    title: "Exp. 304B Average Bayonet Temperatures", titleFs: 25.8, titleBase: 781,
    xLabelFs: 25, xLabelBase: 1085, yLabel: "Temperatures [°C]", yLabelX: 43, yLabelFs: 24, mirrorRight: true,
    series: p3Series,
    legend: { left: 107, top: 800, h: 19, fs: 13.5, items: bayLabels.map((l, i) => ({ label: l, color: p3Series[i].color, width: 2 })) },
  });

  // Panel 4
  const p4Series: Series[] = [{ data: axleRpm, color: "#000000", width: 2.5 }];
  const top4 = 1124, bot4 = 1364, right4 = 1191;
  drawPanel(svg, {
    id: "c4", left: 99, right: right4, top: top4, bottom: bot4, yMax: 1000, yTicks: rpmTicks, yMinorStep: 50,
    tickFs: 24, xTickBase: 1395, yTickGap: 8,
    title: "Exp. 304B Motor Power Profile", titleFs: 25.5, titleBase: 1113,
    xLabelFs: 25, xLabelBase: 1424, yLabel: "Axle RPM", yLabelX: 26, yLabelFs: 25, mirrorRight: false,
    series: p4Series,
    legend: { left: 107, top: 1132, h: 19, fs: 13.5, items: powerLabels.map((l, i) => ({ label: l, color: i === 0 ? "#000" : "#ff0000", width: 2 })) },
  }, (g, x, clip) => {
    const yR = d3.scaleLinear().domain([0, 10]).range([bot4, top4]);
    const area = d3.area<B>().x((d) => x(d[0])).y0((d) => yR(d[1])).y1((d) => yR(d[2]));
    clip.append("path").attr("d", area(powerBand) as string).attr("fill", "#ff0000").attr("stroke", "#ff0000").attr("stroke-width", 1);
    const ln = d3.line<P>().x((d) => x(d[0])).y((d) => yR(d[1]));
    clip.append("path").attr("d", ln(powerStart) as string).attr("fill", "none").attr("stroke", "#ff0000").attr("stroke-width", 2);
    clip.append("path").attr("d", ln(powerEnd) as string).attr("fill", "none").attr("stroke", "#ff0000").attr("stroke-width", 2);
    // right axis
    const ra = g.append("g");
    ra.append("line").attr("x1", right4).attr("x2", right4).attr("y1", top4).attr("y2", bot4).attr("stroke", "#ff0000").attr("stroke-width", 1.5);
    d3.range(0, 10.001, 0.25).forEach((v) => {
      const major = Math.abs(v - Math.round(v)) < 1e-6;
      ra.append("line").attr("x1", right4).attr("x2", right4 - (major ? 10 : 5)).attr("y1", yR(v)).attr("y2", yR(v))
        .attr("stroke", "#ff0000").attr("stroke-width", 1.2);
    });
    kwTicks.forEach((v) => txt(ra, right4 + 7, yR(v), String(v), 24, "start", "bold", "#ff0000").attr("dominant-baseline", "central"));
    txt(ra, 0, 0, "Motor Power [kW]", 25, "middle", "bold", "#ff0000").attr("x", null).attr("y", null)
      .attr("dominant-baseline", "central")
      .attr("transform", `translate(1244,${(top4 + bot4) / 2}) rotate(-90)`);
  });
}

export default function App() {
  const ref = useRef<SVGSVGElement>(null);
  useEffect(() => {
    if (!ref.current) return;
    const svg = d3.select(ref.current);
    svg.selectAll("*").remove();
    draw(svg as unknown as Sel);
  }, []);
  return (
    <svg ref={ref} width={W} height={H} style={{ position: "absolute", left: 0, top: 0, display: "block" }} />
  );
}
